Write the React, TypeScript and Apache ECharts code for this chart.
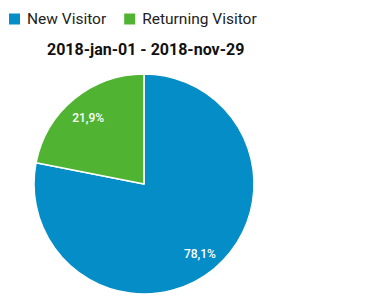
import React, { useEffect, useRef } from "react";
import * as echarts from "echarts";

const categories = ["New Visitor", "Returning Visitor"];
const values = [78.1, 21.9];
const labels = ["78,1%", "21,9%"];
const colors = ["#058DC7", "#50B432"];
const titleText = "2018-jan-01 - 2018-nov-29";

export default function App() {
  const ref = useRef<HTMLDivElement>(null);
  useEffect(() => {
    document.body.style.margin = "0";
    const chart = echarts.init(ref.current!, null, { renderer: "svg" });
    const data = categories.map((name, i) => ({
      name,
      value: values[i],
      itemStyle: { color: colors[i] },
    }));
    chart.setOption({
      animation: false,
      color: colors,
      legend: {
        left: 9,
        top: 11,
        padding: 0,
        icon: "rect",
        itemWidth: 11,
        itemHeight: 11,
        itemGap: 18,
        itemStyle: { borderWidth: 0 },
        data: categories,
        textStyle: {
          fontFamily: "Roboto",
          fontSize: 15.5,
          color: "#222",
          padding: [0, 0, 0, 2],
        },
      },
      title: {
        text: titleText,
        left: 47,
        top: 41,
        padding: 0,
        textStyle: {
          fontFamily: "Roboto",
          fontSize: 16,
          fontWeight: "bold",
          color: "#111",
        },
      },
      series: [
        {
          type: "pie",
          center: [144, 184],
          radius: [0, 110],
          startAngle: 90,
          clockwise: true,
          legendHoverLink: false,
          label: { show: false },
          labelLine: { show: false },
          itemStyle: { borderColor: "#fff", borderWidth: 1.5 },
          emphasis: { disabled: true },
          data,
        },
        {
          type: "pie",
          center: [144, 186],
          radius: [60, 110],
          startAngle: 90,
          clockwise: true,
          silent: true,
          legendHoverLink: false,
          itemStyle: { color: "transparent", borderWidth: 0 },
          label: {
            show: true,
            position: "inside",
            color: "#fff",
            fontFamily: "Roboto",
            fontSize: 12,
            fontWeight: 500,
            formatter: (p: any) => labels[p.dataIndex],
          },
          labelLine: { show: false },
          emphasis: { disabled: true },
          data: categories.map((name, i) => ({
            name: name + " ",
            value: values[i],
            itemStyle: { color: "transparent" },
          })),
        },
      ],
    });
    return () => chart.dispose();
  }, []);
  return <div ref={ref} style={{ width: 370, height: 299 }} />;
}
